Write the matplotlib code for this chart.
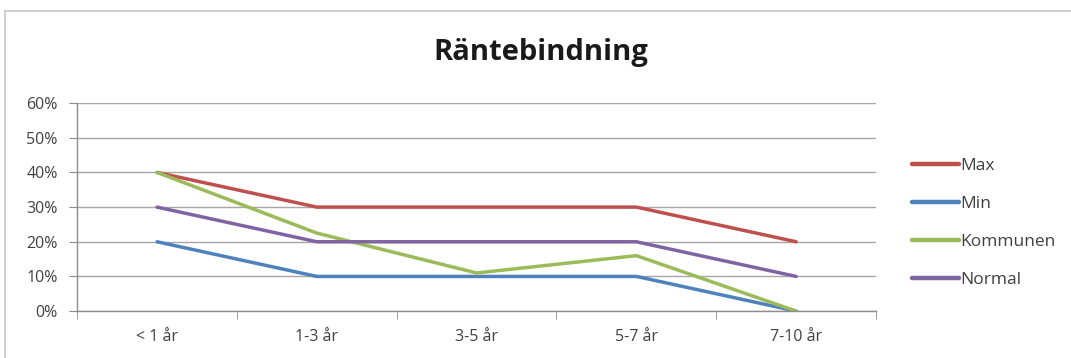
import matplotlib
matplotlib.use("Agg")
import matplotlib.pyplot as plt
from matplotlib.lines import Line2D
from matplotlib.ticker import PercentFormatter, FixedLocator

categories = ["< 1 år", "1-3 år", "3-5 år", "5-7 år", "7-10 år"]
series_names = ["Max", "Min", "Kommunen", "Normal"]
max_vals = [0.40, 0.30, 0.30, 0.30, 0.20]
min_vals = [0.20, 0.10, 0.10, 0.10, 0.00]
kommunen_vals = [0.40, 0.225, 0.11, 0.16, 0.00]
normal_vals = [0.30, 0.20, 0.20, 0.20, 0.10]
colors = ["#C0504D", "#4F81BD", "#9BBB59", "#8064A2"]
yticks = [0, 0.1, 0.2, 0.3, 0.4, 0.5, 0.6]

plt.rcParams['font.family'] = ['Open Sans', 'DejaVu Sans']

fig = plt.figure(figsize=(10.71, 3.58), dpi=100)
fig.patch.set_facecolor("white")
# outer chart frame (only top and left visible in the reference crop)
fig.add_artist(Line2D([5 / 1071, 1.0], [1 - 11 / 358, 1 - 11 / 358], transform=fig.transFigure,
                      color="#c8c8c8", linewidth=1.2))
fig.add_artist(Line2D([5 / 1071, 5 / 1071], [0, 1 - 11 / 358], transform=fig.transFigure,
                      color="#c8c8c8", linewidth=1.2))

ax = fig.add_axes([0.072, 0.131, 0.746, 0.581])

x = list(range(len(categories)))
for name, vals, c in zip(series_names, [max_vals, min_vals, kommunen_vals, normal_vals], colors):
    ax.plot(x, vals, color=c, linewidth=2.5, label=name, solid_capstyle="round")

ax.set_xlim(-0.5, len(categories) - 0.5)
ax.set_ylim(0, 0.6)
ax.set_yticks(yticks)
ax.yaxis.set_major_formatter(PercentFormatter(1.0, decimals=0))
ax.set_xticks(x)
ax.set_xticklabels(categories)
ax.xaxis.set_minor_locator(FixedLocator([i - 0.5 for i in range(len(categories) + 1)]))
ax.tick_params(axis="x", which="major", length=0, pad=13, labelsize=11.5, colors="#404040")
ax.tick_params(axis="x", which="minor", length=6, color="#8c8c8c", direction="out")
ax.tick_params(axis="y", length=6, color="#8c8c8c", labelsize=11.5, colors="#404040", pad=8)
ax.yaxis.grid(True, color="#a6a6a6", linewidth=1.0)
ax.set_axisbelow(True)
for s in ["top", "right"]:
    ax.spines[s].set_visible(False)
for s in ["left", "bottom"]:
    ax.spines[s].set_color("#8c8c8c")
    ax.spines[s].set_linewidth(1.0)

fig.text(0.505, 0.852, "Räntebindning", ha="center", va="center", fontsize=21, fontweight="bold", color="#1a1a1a")

leg = ax.legend(loc="upper left", bbox_to_anchor=(1.036, 0.77), frameon=False, fontsize=12.5,
                handlelength=2.7, handletextpad=0.1, labelspacing=1.25, borderaxespad=0)
for line in leg.get_lines():
    line.set_linewidth(3.2)
for t in leg.get_texts():
    t.set_color("#404040")

fig.savefig("out.png", dpi=100, facecolor="white")
